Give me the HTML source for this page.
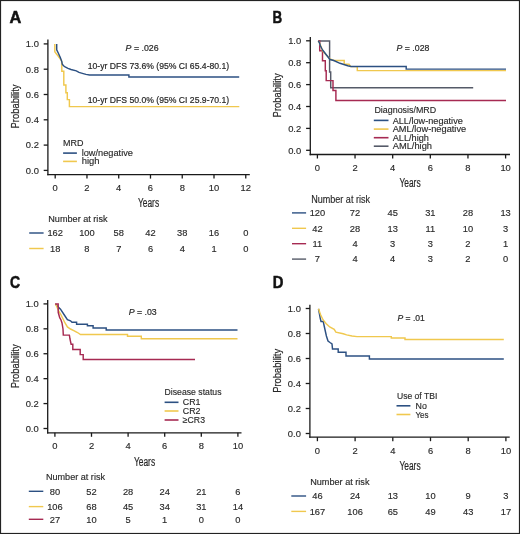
<!DOCTYPE html>
<html><head><meta charset="utf-8"><style>
html,body{margin:0;padding:0;background:#fff;}
svg{display:block;will-change:transform;font-family:"Liberation Sans",sans-serif;}
text{stroke:#2a2a2a;stroke-width:0.15px;}
text.h{stroke:#222;stroke-width:0.2px;}
</style></head><body>
<svg width="520" height="534" viewBox="0 0 520 534">
<rect x="0" y="0" width="520" height="534" fill="#fff"/>
<text x="9.50" y="22.50" font-size="16.35" text-anchor="start" font-weight="bold" font-style="normal" fill="#111" textLength="11.80" lengthAdjust="spacingAndGlyphs" style="stroke:#111;stroke-width:0.5px">A</text>
<line x1="47.90" y1="39.60" x2="47.90" y2="175.25" stroke="#1a1a1a" stroke-width="1.3"/>
<line x1="47.25" y1="174.60" x2="249.80" y2="174.60" stroke="#1a1a1a" stroke-width="1.3"/>
<line x1="43.70" y1="43.90" x2="47.90" y2="43.90" stroke="#1a1a1a" stroke-width="1.3"/>
<text x="38.90" y="47.23" font-size="9.40" text-anchor="end" font-weight="normal" font-style="normal" fill="#2a2a2a">1.0</text>
<line x1="43.70" y1="69.20" x2="47.90" y2="69.20" stroke="#1a1a1a" stroke-width="1.3"/>
<text x="38.90" y="72.53" font-size="9.40" text-anchor="end" font-weight="normal" font-style="normal" fill="#2a2a2a">0.8</text>
<line x1="43.70" y1="94.50" x2="47.90" y2="94.50" stroke="#1a1a1a" stroke-width="1.3"/>
<text x="38.90" y="97.83" font-size="9.40" text-anchor="end" font-weight="normal" font-style="normal" fill="#2a2a2a">0.6</text>
<line x1="43.70" y1="119.80" x2="47.90" y2="119.80" stroke="#1a1a1a" stroke-width="1.3"/>
<text x="38.90" y="123.13" font-size="9.40" text-anchor="end" font-weight="normal" font-style="normal" fill="#2a2a2a">0.4</text>
<line x1="43.70" y1="145.10" x2="47.90" y2="145.10" stroke="#1a1a1a" stroke-width="1.3"/>
<text x="38.90" y="148.43" font-size="9.40" text-anchor="end" font-weight="normal" font-style="normal" fill="#2a2a2a">0.2</text>
<line x1="43.70" y1="170.40" x2="47.90" y2="170.40" stroke="#1a1a1a" stroke-width="1.3"/>
<text x="38.90" y="173.73" font-size="9.40" text-anchor="end" font-weight="normal" font-style="normal" fill="#2a2a2a">0.0</text>
<line x1="55.20" y1="174.60" x2="55.20" y2="178.60" stroke="#1a1a1a" stroke-width="1.3"/>
<text x="55.20" y="190.93" font-size="9.40" text-anchor="middle" font-weight="normal" font-style="normal" fill="#2a2a2a">0</text>
<line x1="86.96" y1="174.60" x2="86.96" y2="178.60" stroke="#1a1a1a" stroke-width="1.3"/>
<text x="86.96" y="190.93" font-size="9.40" text-anchor="middle" font-weight="normal" font-style="normal" fill="#2a2a2a">2</text>
<line x1="118.72" y1="174.60" x2="118.72" y2="178.60" stroke="#1a1a1a" stroke-width="1.3"/>
<text x="118.72" y="190.93" font-size="9.40" text-anchor="middle" font-weight="normal" font-style="normal" fill="#2a2a2a">4</text>
<line x1="150.48" y1="174.60" x2="150.48" y2="178.60" stroke="#1a1a1a" stroke-width="1.3"/>
<text x="150.48" y="190.93" font-size="9.40" text-anchor="middle" font-weight="normal" font-style="normal" fill="#2a2a2a">6</text>
<line x1="182.24" y1="174.60" x2="182.24" y2="178.60" stroke="#1a1a1a" stroke-width="1.3"/>
<text x="182.24" y="190.93" font-size="9.40" text-anchor="middle" font-weight="normal" font-style="normal" fill="#2a2a2a">8</text>
<line x1="214.00" y1="174.60" x2="214.00" y2="178.60" stroke="#1a1a1a" stroke-width="1.3"/>
<text x="214.00" y="190.93" font-size="9.40" text-anchor="middle" font-weight="normal" font-style="normal" fill="#2a2a2a">10</text>
<line x1="245.76" y1="174.60" x2="245.76" y2="178.60" stroke="#1a1a1a" stroke-width="1.3"/>
<text x="245.76" y="190.93" font-size="9.40" text-anchor="middle" font-weight="normal" font-style="normal" fill="#2a2a2a">12</text>
<text x="0" y="0" font-size="10.4" fill="#2a2a2a" text-anchor="middle" textLength="44" lengthAdjust="spacingAndGlyphs" class="h" transform="translate(18.90,106.50) rotate(-90)">Probability</text>
<text x="138.00" y="207.30" font-size="12.50" text-anchor="start" font-weight="normal" font-style="normal" fill="#2a2a2a" textLength="21.10" lengthAdjust="spacingAndGlyphs" class="h">Years</text>
<text x="125.60" y="50.60" font-size="8.87" text-anchor="start" font-weight="normal" font-style="normal" fill="#2a2a2a" textLength="33.00" lengthAdjust="spacingAndGlyphs" class="h"><tspan font-style="italic">P</tspan> = .026</text>
<text x="87.70" y="69.20" font-size="9.16" text-anchor="start" font-weight="normal" font-style="normal" fill="#2a2a2a" textLength="141.50" lengthAdjust="spacingAndGlyphs" class="h">10-yr DFS 73.6% (95% CI 65.4-80.1)</text>
<text x="87.70" y="103.10" font-size="9.16" text-anchor="start" font-weight="normal" font-style="normal" fill="#2a2a2a" textLength="141.50" lengthAdjust="spacingAndGlyphs" class="h">10-yr DFS 50.0% (95% CI 25.9-70.1)</text>
<text x="63.10" y="145.80" font-size="8.43" text-anchor="start" font-weight="normal" font-style="normal" fill="#2a2a2a" textLength="20.40" lengthAdjust="spacingAndGlyphs">MRD</text>
<line x1="63.10" y1="153.10" x2="76.90" y2="153.10" stroke="#2c5082" stroke-width="1.6"/>
<line x1="63.10" y1="161.40" x2="76.90" y2="161.40" stroke="#f0c84e" stroke-width="1.6"/>
<text x="81.70" y="156.00" font-size="9.45" text-anchor="start" font-weight="normal" font-style="normal" fill="#2a2a2a" textLength="51.30" lengthAdjust="spacingAndGlyphs">low/negative</text>
<text x="81.70" y="163.70" font-size="9.30" text-anchor="start" font-weight="normal" font-style="normal" fill="#2a2a2a" textLength="17.80" lengthAdjust="spacingAndGlyphs">high</text>
<text x="48.30" y="222.10" font-size="8.58" text-anchor="start" font-weight="normal" font-style="normal" fill="#2a2a2a" textLength="59.20" lengthAdjust="spacingAndGlyphs">Number at risk</text>
<line x1="29.20" y1="233.00" x2="43.60" y2="233.00" stroke="#2c5082" stroke-width="1.45"/>
<line x1="29.20" y1="248.50" x2="43.60" y2="248.50" stroke="#f0c84e" stroke-width="1.45"/>
<text x="55.20" y="236.29" font-size="9.30" text-anchor="middle" font-weight="normal" font-style="normal" fill="#2a2a2a">162</text>
<text x="55.20" y="251.59" font-size="9.30" text-anchor="middle" font-weight="normal" font-style="normal" fill="#2a2a2a">18</text>
<text x="86.96" y="236.29" font-size="9.30" text-anchor="middle" font-weight="normal" font-style="normal" fill="#2a2a2a">100</text>
<text x="86.96" y="251.59" font-size="9.30" text-anchor="middle" font-weight="normal" font-style="normal" fill="#2a2a2a">8</text>
<text x="118.72" y="236.29" font-size="9.30" text-anchor="middle" font-weight="normal" font-style="normal" fill="#2a2a2a">58</text>
<text x="118.72" y="251.59" font-size="9.30" text-anchor="middle" font-weight="normal" font-style="normal" fill="#2a2a2a">7</text>
<text x="150.48" y="236.29" font-size="9.30" text-anchor="middle" font-weight="normal" font-style="normal" fill="#2a2a2a">42</text>
<text x="150.48" y="251.59" font-size="9.30" text-anchor="middle" font-weight="normal" font-style="normal" fill="#2a2a2a">6</text>
<text x="182.24" y="236.29" font-size="9.30" text-anchor="middle" font-weight="normal" font-style="normal" fill="#2a2a2a">38</text>
<text x="182.24" y="251.59" font-size="9.30" text-anchor="middle" font-weight="normal" font-style="normal" fill="#2a2a2a">4</text>
<text x="214.00" y="236.29" font-size="9.30" text-anchor="middle" font-weight="normal" font-style="normal" fill="#2a2a2a">16</text>
<text x="214.00" y="251.59" font-size="9.30" text-anchor="middle" font-weight="normal" font-style="normal" fill="#2a2a2a">1</text>
<text x="245.76" y="236.29" font-size="9.30" text-anchor="middle" font-weight="normal" font-style="normal" fill="#2a2a2a">0</text>
<text x="245.76" y="251.59" font-size="9.30" text-anchor="middle" font-weight="normal" font-style="normal" fill="#2a2a2a">0</text>
<polyline points="54.80,43.90 54.80,51.80 56.50,54.00 58.50,56.50 60.50,59.20 61.50,60.80 61.80,62.00 61.80,71.20 63.80,71.20 63.80,85.00 65.90,85.00 65.90,92.70 67.30,92.70 67.30,99.60 69.40,99.60 69.40,106.60 239.30,106.60" fill="none" stroke="#f0c84e" stroke-width="1.45" stroke-linejoin="miter"/>
<polyline points="56.70,43.90 56.70,49.80 58.50,53.50 60.30,57.50 61.80,61.60 62.30,64.30 63.50,65.80 65.10,66.90 68.00,68.30 71.00,69.50 76.30,70.90 79.00,72.40 83.20,73.60 86.00,74.40 89.50,75.00 128.90,75.00 128.90,76.90 239.20,76.90" fill="none" stroke="#2c5082" stroke-width="1.45" stroke-linejoin="miter"/>
<text x="272.60" y="22.70" font-size="16.79" text-anchor="start" font-weight="bold" font-style="normal" fill="#111" textLength="9.70" lengthAdjust="spacingAndGlyphs" style="stroke:#111;stroke-width:0.5px">B</text>
<line x1="310.30" y1="37.00" x2="310.30" y2="155.15" stroke="#1a1a1a" stroke-width="1.3"/>
<line x1="309.65" y1="154.50" x2="510.00" y2="154.50" stroke="#1a1a1a" stroke-width="1.3"/>
<line x1="306.10" y1="40.80" x2="310.30" y2="40.80" stroke="#1a1a1a" stroke-width="1.3"/>
<text x="301.20" y="44.13" font-size="9.40" text-anchor="end" font-weight="normal" font-style="normal" fill="#2a2a2a">1.0</text>
<line x1="306.10" y1="62.70" x2="310.30" y2="62.70" stroke="#1a1a1a" stroke-width="1.3"/>
<text x="301.20" y="66.03" font-size="9.40" text-anchor="end" font-weight="normal" font-style="normal" fill="#2a2a2a">0.8</text>
<line x1="306.10" y1="84.60" x2="310.30" y2="84.60" stroke="#1a1a1a" stroke-width="1.3"/>
<text x="301.20" y="87.93" font-size="9.40" text-anchor="end" font-weight="normal" font-style="normal" fill="#2a2a2a">0.6</text>
<line x1="306.10" y1="106.50" x2="310.30" y2="106.50" stroke="#1a1a1a" stroke-width="1.3"/>
<text x="301.20" y="109.83" font-size="9.40" text-anchor="end" font-weight="normal" font-style="normal" fill="#2a2a2a">0.4</text>
<line x1="306.10" y1="128.40" x2="310.30" y2="128.40" stroke="#1a1a1a" stroke-width="1.3"/>
<text x="301.20" y="131.73" font-size="9.40" text-anchor="end" font-weight="normal" font-style="normal" fill="#2a2a2a">0.2</text>
<line x1="306.10" y1="150.30" x2="310.30" y2="150.30" stroke="#1a1a1a" stroke-width="1.3"/>
<text x="301.20" y="153.63" font-size="9.40" text-anchor="end" font-weight="normal" font-style="normal" fill="#2a2a2a">0.0</text>
<line x1="317.40" y1="154.50" x2="317.40" y2="158.50" stroke="#1a1a1a" stroke-width="1.3"/>
<text x="317.40" y="171.13" font-size="9.40" text-anchor="middle" font-weight="normal" font-style="normal" fill="#2a2a2a">0</text>
<line x1="355.04" y1="154.50" x2="355.04" y2="158.50" stroke="#1a1a1a" stroke-width="1.3"/>
<text x="355.04" y="171.13" font-size="9.40" text-anchor="middle" font-weight="normal" font-style="normal" fill="#2a2a2a">2</text>
<line x1="392.68" y1="154.50" x2="392.68" y2="158.50" stroke="#1a1a1a" stroke-width="1.3"/>
<text x="392.68" y="171.13" font-size="9.40" text-anchor="middle" font-weight="normal" font-style="normal" fill="#2a2a2a">4</text>
<line x1="430.32" y1="154.50" x2="430.32" y2="158.50" stroke="#1a1a1a" stroke-width="1.3"/>
<text x="430.32" y="171.13" font-size="9.40" text-anchor="middle" font-weight="normal" font-style="normal" fill="#2a2a2a">6</text>
<line x1="467.96" y1="154.50" x2="467.96" y2="158.50" stroke="#1a1a1a" stroke-width="1.3"/>
<text x="467.96" y="171.13" font-size="9.40" text-anchor="middle" font-weight="normal" font-style="normal" fill="#2a2a2a">8</text>
<line x1="505.60" y1="154.50" x2="505.60" y2="158.50" stroke="#1a1a1a" stroke-width="1.3"/>
<text x="505.60" y="171.13" font-size="9.40" text-anchor="middle" font-weight="normal" font-style="normal" fill="#2a2a2a">10</text>
<text x="0" y="0" font-size="10.4" fill="#2a2a2a" text-anchor="middle" textLength="44" lengthAdjust="spacingAndGlyphs" class="h" transform="translate(281.20,95.40) rotate(-90)">Probability</text>
<text x="399.40" y="187.30" font-size="12.21" text-anchor="start" font-weight="normal" font-style="normal" fill="#2a2a2a" textLength="21.20" lengthAdjust="spacingAndGlyphs" class="h">Years</text>
<text x="396.50" y="50.60" font-size="9.30" text-anchor="start" font-weight="normal" font-style="normal" fill="#2a2a2a" textLength="32.90" lengthAdjust="spacingAndGlyphs" class="h"><tspan font-style="italic">P</tspan> = .028</text>
<text x="374.40" y="113.30" font-size="9.30" text-anchor="start" font-weight="normal" font-style="normal" fill="#2a2a2a" textLength="61.80" lengthAdjust="spacingAndGlyphs">Diagnosis/MRD</text>
<line x1="373.80" y1="120.40" x2="388.50" y2="120.40" stroke="#2c5082" stroke-width="1.6"/>
<text x="392.70" y="123.60" font-size="9.30" text-anchor="start" font-weight="normal" font-style="normal" fill="#2a2a2a" textLength="70.10" lengthAdjust="spacingAndGlyphs">ALL/low-negative</text>
<line x1="373.80" y1="129.10" x2="388.50" y2="129.10" stroke="#f0c84e" stroke-width="1.6"/>
<text x="392.70" y="132.30" font-size="9.30" text-anchor="start" font-weight="normal" font-style="normal" fill="#2a2a2a" textLength="73.50" lengthAdjust="spacingAndGlyphs">AML/low-negative</text>
<line x1="373.80" y1="137.70" x2="388.50" y2="137.70" stroke="#a62a52" stroke-width="1.6"/>
<text x="392.70" y="140.90" font-size="9.30" text-anchor="start" font-weight="normal" font-style="normal" fill="#2a2a2a" textLength="36.20" lengthAdjust="spacingAndGlyphs">ALL/high</text>
<line x1="373.80" y1="146.20" x2="388.50" y2="146.20" stroke="#555a68" stroke-width="1.6"/>
<text x="392.70" y="149.40" font-size="9.30" text-anchor="start" font-weight="normal" font-style="normal" fill="#2a2a2a" textLength="39.30" lengthAdjust="spacingAndGlyphs">AML/high</text>
<text x="311.20" y="202.70" font-size="10.03" text-anchor="start" font-weight="normal" font-style="normal" fill="#2a2a2a" textLength="58.80" lengthAdjust="spacingAndGlyphs">Number at risk</text>
<line x1="292.00" y1="212.90" x2="306.10" y2="212.90" stroke="#2c5082" stroke-width="1.4"/>
<text x="317.40" y="216.19" font-size="9.30" text-anchor="middle" font-weight="normal" font-style="normal" fill="#2a2a2a">120</text>
<text x="355.04" y="216.19" font-size="9.30" text-anchor="middle" font-weight="normal" font-style="normal" fill="#2a2a2a">72</text>
<text x="392.68" y="216.19" font-size="9.30" text-anchor="middle" font-weight="normal" font-style="normal" fill="#2a2a2a">45</text>
<text x="430.32" y="216.19" font-size="9.30" text-anchor="middle" font-weight="normal" font-style="normal" fill="#2a2a2a">31</text>
<text x="467.96" y="216.19" font-size="9.30" text-anchor="middle" font-weight="normal" font-style="normal" fill="#2a2a2a">28</text>
<text x="505.60" y="216.19" font-size="9.30" text-anchor="middle" font-weight="normal" font-style="normal" fill="#2a2a2a">13</text>
<line x1="292.00" y1="228.30" x2="306.10" y2="228.30" stroke="#f0c84e" stroke-width="1.4"/>
<text x="317.40" y="231.59" font-size="9.30" text-anchor="middle" font-weight="normal" font-style="normal" fill="#2a2a2a">42</text>
<text x="355.04" y="231.59" font-size="9.30" text-anchor="middle" font-weight="normal" font-style="normal" fill="#2a2a2a">28</text>
<text x="392.68" y="231.59" font-size="9.30" text-anchor="middle" font-weight="normal" font-style="normal" fill="#2a2a2a">13</text>
<text x="430.32" y="231.59" font-size="9.30" text-anchor="middle" font-weight="normal" font-style="normal" fill="#2a2a2a">11</text>
<text x="467.96" y="231.59" font-size="9.30" text-anchor="middle" font-weight="normal" font-style="normal" fill="#2a2a2a">10</text>
<text x="505.60" y="231.59" font-size="9.30" text-anchor="middle" font-weight="normal" font-style="normal" fill="#2a2a2a">3</text>
<line x1="292.00" y1="243.70" x2="306.10" y2="243.70" stroke="#a62a52" stroke-width="1.4"/>
<text x="317.40" y="246.99" font-size="9.30" text-anchor="middle" font-weight="normal" font-style="normal" fill="#2a2a2a">11</text>
<text x="355.04" y="246.99" font-size="9.30" text-anchor="middle" font-weight="normal" font-style="normal" fill="#2a2a2a">4</text>
<text x="392.68" y="246.99" font-size="9.30" text-anchor="middle" font-weight="normal" font-style="normal" fill="#2a2a2a">3</text>
<text x="430.32" y="246.99" font-size="9.30" text-anchor="middle" font-weight="normal" font-style="normal" fill="#2a2a2a">3</text>
<text x="467.96" y="246.99" font-size="9.30" text-anchor="middle" font-weight="normal" font-style="normal" fill="#2a2a2a">2</text>
<text x="505.60" y="246.99" font-size="9.30" text-anchor="middle" font-weight="normal" font-style="normal" fill="#2a2a2a">1</text>
<line x1="292.00" y1="259.10" x2="306.10" y2="259.10" stroke="#555a68" stroke-width="1.4"/>
<text x="317.40" y="262.39" font-size="9.30" text-anchor="middle" font-weight="normal" font-style="normal" fill="#2a2a2a">7</text>
<text x="355.04" y="262.39" font-size="9.30" text-anchor="middle" font-weight="normal" font-style="normal" fill="#2a2a2a">4</text>
<text x="392.68" y="262.39" font-size="9.30" text-anchor="middle" font-weight="normal" font-style="normal" fill="#2a2a2a">4</text>
<text x="430.32" y="262.39" font-size="9.30" text-anchor="middle" font-weight="normal" font-style="normal" fill="#2a2a2a">3</text>
<text x="467.96" y="262.39" font-size="9.30" text-anchor="middle" font-weight="normal" font-style="normal" fill="#2a2a2a">2</text>
<text x="505.60" y="262.39" font-size="9.30" text-anchor="middle" font-weight="normal" font-style="normal" fill="#2a2a2a">0</text>
<polyline points="318.30,40.90 329.60,40.90 329.60,40.90 329.60,40.90 329.60,72.09 330.70,72.09 330.70,72.09 330.70,72.09 330.70,87.73 473.20,87.73 473.20,87.73" fill="none" stroke="#555a68" stroke-width="1.45" stroke-linejoin="miter"/>
<polyline points="318.30,40.90 319.70,40.90 319.70,40.90 319.70,40.90 319.70,50.75 322.50,50.75 322.50,50.75 322.50,50.75 322.50,60.71 325.30,60.71 325.30,60.71 325.30,60.71 325.30,70.66 326.20,70.66 326.20,70.66 326.20,70.66 326.20,80.62 333.00,80.62 333.00,80.62 333.00,80.62 333.00,90.57 335.90,90.57 335.90,90.57 335.90,90.57 335.90,100.53 506.00,100.53 506.00,100.53" fill="none" stroke="#a62a52" stroke-width="1.45" stroke-linejoin="miter"/>
<polyline points="318.30,40.90 319.80,43.50 321.00,46.50 322.20,50.00 323.50,52.00 330.00,59.00 333.80,60.50 344.20,60.50 344.20,64.30 349.00,64.30 350.80,66.60 357.30,66.60 357.30,70.60 506.00,70.60" fill="none" stroke="#f0c84e" stroke-width="1.45" stroke-linejoin="miter"/>
<polyline points="318.30,40.90 319.50,43.00 320.50,46.00 321.80,48.50 323.00,50.50 330.00,59.50 333.80,60.50 340.00,63.30 347.70,65.80 351.00,66.40 406.20,66.40 406.20,69.10 506.00,69.10" fill="none" stroke="#2c5082" stroke-width="1.45" stroke-linejoin="miter"/>
<text x="10.10" y="288.20" font-size="16.42" text-anchor="start" font-weight="bold" font-style="normal" fill="#111" textLength="10.10" lengthAdjust="spacingAndGlyphs" style="stroke:#111;stroke-width:0.5px">C</text>
<line x1="47.70" y1="300.00" x2="47.70" y2="433.45" stroke="#1a1a1a" stroke-width="1.3"/>
<line x1="47.05" y1="432.80" x2="241.50" y2="432.80" stroke="#1a1a1a" stroke-width="1.3"/>
<line x1="43.50" y1="303.90" x2="47.70" y2="303.90" stroke="#1a1a1a" stroke-width="1.3"/>
<text x="38.70" y="307.23" font-size="9.40" text-anchor="end" font-weight="normal" font-style="normal" fill="#2a2a2a">1.0</text>
<line x1="43.50" y1="328.82" x2="47.70" y2="328.82" stroke="#1a1a1a" stroke-width="1.3"/>
<text x="38.70" y="332.15" font-size="9.40" text-anchor="end" font-weight="normal" font-style="normal" fill="#2a2a2a">0.8</text>
<line x1="43.50" y1="353.74" x2="47.70" y2="353.74" stroke="#1a1a1a" stroke-width="1.3"/>
<text x="38.70" y="357.07" font-size="9.40" text-anchor="end" font-weight="normal" font-style="normal" fill="#2a2a2a">0.6</text>
<line x1="43.50" y1="378.66" x2="47.70" y2="378.66" stroke="#1a1a1a" stroke-width="1.3"/>
<text x="38.70" y="381.99" font-size="9.40" text-anchor="end" font-weight="normal" font-style="normal" fill="#2a2a2a">0.4</text>
<line x1="43.50" y1="403.58" x2="47.70" y2="403.58" stroke="#1a1a1a" stroke-width="1.3"/>
<text x="38.70" y="406.91" font-size="9.40" text-anchor="end" font-weight="normal" font-style="normal" fill="#2a2a2a">0.2</text>
<line x1="43.50" y1="428.50" x2="47.70" y2="428.50" stroke="#1a1a1a" stroke-width="1.3"/>
<text x="38.70" y="431.83" font-size="9.40" text-anchor="end" font-weight="normal" font-style="normal" fill="#2a2a2a">0.0</text>
<line x1="54.90" y1="432.80" x2="54.90" y2="436.80" stroke="#1a1a1a" stroke-width="1.3"/>
<text x="54.90" y="449.13" font-size="9.40" text-anchor="middle" font-weight="normal" font-style="normal" fill="#2a2a2a">0</text>
<line x1="91.50" y1="432.80" x2="91.50" y2="436.80" stroke="#1a1a1a" stroke-width="1.3"/>
<text x="91.50" y="449.13" font-size="9.40" text-anchor="middle" font-weight="normal" font-style="normal" fill="#2a2a2a">2</text>
<line x1="128.10" y1="432.80" x2="128.10" y2="436.80" stroke="#1a1a1a" stroke-width="1.3"/>
<text x="128.10" y="449.13" font-size="9.40" text-anchor="middle" font-weight="normal" font-style="normal" fill="#2a2a2a">4</text>
<line x1="164.70" y1="432.80" x2="164.70" y2="436.80" stroke="#1a1a1a" stroke-width="1.3"/>
<text x="164.70" y="449.13" font-size="9.40" text-anchor="middle" font-weight="normal" font-style="normal" fill="#2a2a2a">6</text>
<line x1="201.30" y1="432.80" x2="201.30" y2="436.80" stroke="#1a1a1a" stroke-width="1.3"/>
<text x="201.30" y="449.13" font-size="9.40" text-anchor="middle" font-weight="normal" font-style="normal" fill="#2a2a2a">8</text>
<line x1="237.90" y1="432.80" x2="237.90" y2="436.80" stroke="#1a1a1a" stroke-width="1.3"/>
<text x="237.90" y="449.13" font-size="9.40" text-anchor="middle" font-weight="normal" font-style="normal" fill="#2a2a2a">10</text>
<text x="0" y="0" font-size="10.4" fill="#2a2a2a" text-anchor="middle" textLength="44" lengthAdjust="spacingAndGlyphs" class="h" transform="translate(18.90,366.30) rotate(-90)">Probability</text>
<text x="133.90" y="465.50" font-size="12.21" text-anchor="start" font-weight="normal" font-style="normal" fill="#2a2a2a" textLength="21.20" lengthAdjust="spacingAndGlyphs" class="h">Years</text>
<text x="128.70" y="315.20" font-size="9.01" text-anchor="start" font-weight="normal" font-style="normal" fill="#2a2a2a" textLength="28.00" lengthAdjust="spacingAndGlyphs" class="h"><tspan font-style="italic">P</tspan> = .03</text>
<text x="164.60" y="395.40" font-size="9.01" text-anchor="start" font-weight="normal" font-style="normal" fill="#2a2a2a" textLength="56.90" lengthAdjust="spacingAndGlyphs">Disease status</text>
<line x1="164.60" y1="402.30" x2="178.50" y2="402.30" stroke="#2c5082" stroke-width="1.6"/>
<text x="182.80" y="405.40" font-size="9.01" text-anchor="start" font-weight="normal" font-style="normal" fill="#2a2a2a" textLength="17.70" lengthAdjust="spacingAndGlyphs">CR1</text>
<line x1="164.60" y1="411.00" x2="178.50" y2="411.00" stroke="#f0c84e" stroke-width="1.6"/>
<text x="182.80" y="414.10" font-size="9.01" text-anchor="start" font-weight="normal" font-style="normal" fill="#2a2a2a" textLength="17.70" lengthAdjust="spacingAndGlyphs">CR2</text>
<line x1="164.60" y1="420.00" x2="178.50" y2="420.00" stroke="#a62a52" stroke-width="1.6"/>
<text x="182.80" y="423.10" font-size="9.01" text-anchor="start" font-weight="normal" font-style="normal" fill="#2a2a2a" textLength="22.20" lengthAdjust="spacingAndGlyphs">≥CR3</text>
<text x="45.90" y="480.00" font-size="9.01" text-anchor="start" font-weight="normal" font-style="normal" fill="#2a2a2a" textLength="59.10" lengthAdjust="spacingAndGlyphs">Number at risk</text>
<line x1="28.80" y1="491.30" x2="43.30" y2="491.30" stroke="#2c5082" stroke-width="1.4"/>
<text x="54.90" y="494.59" font-size="9.30" text-anchor="middle" font-weight="normal" font-style="normal" fill="#2a2a2a">80</text>
<text x="91.50" y="494.59" font-size="9.30" text-anchor="middle" font-weight="normal" font-style="normal" fill="#2a2a2a">52</text>
<text x="128.10" y="494.59" font-size="9.30" text-anchor="middle" font-weight="normal" font-style="normal" fill="#2a2a2a">28</text>
<text x="164.70" y="494.59" font-size="9.30" text-anchor="middle" font-weight="normal" font-style="normal" fill="#2a2a2a">24</text>
<text x="201.30" y="494.59" font-size="9.30" text-anchor="middle" font-weight="normal" font-style="normal" fill="#2a2a2a">21</text>
<text x="237.90" y="494.59" font-size="9.30" text-anchor="middle" font-weight="normal" font-style="normal" fill="#2a2a2a">6</text>
<line x1="28.80" y1="506.60" x2="43.30" y2="506.60" stroke="#f0c84e" stroke-width="1.4"/>
<text x="54.90" y="509.89" font-size="9.30" text-anchor="middle" font-weight="normal" font-style="normal" fill="#2a2a2a">106</text>
<text x="91.50" y="509.89" font-size="9.30" text-anchor="middle" font-weight="normal" font-style="normal" fill="#2a2a2a">68</text>
<text x="128.10" y="509.89" font-size="9.30" text-anchor="middle" font-weight="normal" font-style="normal" fill="#2a2a2a">45</text>
<text x="164.70" y="509.89" font-size="9.30" text-anchor="middle" font-weight="normal" font-style="normal" fill="#2a2a2a">34</text>
<text x="201.30" y="509.89" font-size="9.30" text-anchor="middle" font-weight="normal" font-style="normal" fill="#2a2a2a">31</text>
<text x="237.90" y="509.89" font-size="9.30" text-anchor="middle" font-weight="normal" font-style="normal" fill="#2a2a2a">14</text>
<line x1="28.80" y1="519.30" x2="43.30" y2="519.30" stroke="#a62a52" stroke-width="1.4"/>
<text x="54.90" y="522.59" font-size="9.30" text-anchor="middle" font-weight="normal" font-style="normal" fill="#2a2a2a">27</text>
<text x="91.50" y="522.59" font-size="9.30" text-anchor="middle" font-weight="normal" font-style="normal" fill="#2a2a2a">10</text>
<text x="128.10" y="522.59" font-size="9.30" text-anchor="middle" font-weight="normal" font-style="normal" fill="#2a2a2a">5</text>
<text x="164.70" y="522.59" font-size="9.30" text-anchor="middle" font-weight="normal" font-style="normal" fill="#2a2a2a">1</text>
<text x="201.30" y="522.59" font-size="9.30" text-anchor="middle" font-weight="normal" font-style="normal" fill="#2a2a2a">0</text>
<text x="237.90" y="522.59" font-size="9.30" text-anchor="middle" font-weight="normal" font-style="normal" fill="#2a2a2a">0</text>
<polyline points="55.40,303.90 57.50,306.20 60.50,309.20 64.00,314.50 67.40,319.60 70.50,320.80 72.00,322.30 76.60,322.30 76.60,324.20 87.40,324.20 87.40,325.80 93.10,325.80 93.10,328.00 106.20,328.00 106.20,330.00 237.50,330.00" fill="none" stroke="#2c5082" stroke-width="1.45" stroke-linejoin="miter"/>
<polyline points="55.40,303.90 56.50,306.00 58.50,310.50 60.80,314.50 62.80,318.50 65.00,323.00 67.40,326.90 70.50,329.00 74.30,330.80 77.50,332.50 80.50,334.50 127.50,334.50 127.50,336.30 141.30,336.30 141.30,338.80 237.50,338.80" fill="none" stroke="#f0c84e" stroke-width="1.45" stroke-linejoin="miter"/>
<polyline points="55.10,303.90 58.20,303.90 58.20,312.30 59.70,317.70 61.00,320.00 62.00,323.00 63.00,329.00 63.30,335.10 69.40,335.10 70.00,339.00 71.10,344.20 72.80,344.20 72.80,349.50 80.20,349.50 80.20,354.60 83.20,354.60 83.20,359.40 195.00,359.40" fill="none" stroke="#a62a52" stroke-width="1.45" stroke-linejoin="miter"/>
<text x="272.80" y="288.10" font-size="16.57" text-anchor="start" font-weight="bold" font-style="normal" fill="#111" textLength="10.70" lengthAdjust="spacingAndGlyphs" style="stroke:#111;stroke-width:0.5px">D</text>
<line x1="309.90" y1="304.70" x2="309.90" y2="437.85" stroke="#1a1a1a" stroke-width="1.3"/>
<line x1="309.25" y1="437.20" x2="509.70" y2="437.20" stroke="#1a1a1a" stroke-width="1.3"/>
<line x1="305.70" y1="308.50" x2="309.90" y2="308.50" stroke="#1a1a1a" stroke-width="1.3"/>
<text x="300.90" y="311.83" font-size="9.40" text-anchor="end" font-weight="normal" font-style="normal" fill="#2a2a2a">1.0</text>
<line x1="305.70" y1="333.50" x2="309.90" y2="333.50" stroke="#1a1a1a" stroke-width="1.3"/>
<text x="300.90" y="336.83" font-size="9.40" text-anchor="end" font-weight="normal" font-style="normal" fill="#2a2a2a">0.8</text>
<line x1="305.70" y1="358.50" x2="309.90" y2="358.50" stroke="#1a1a1a" stroke-width="1.3"/>
<text x="300.90" y="361.83" font-size="9.40" text-anchor="end" font-weight="normal" font-style="normal" fill="#2a2a2a">0.6</text>
<line x1="305.70" y1="383.50" x2="309.90" y2="383.50" stroke="#1a1a1a" stroke-width="1.3"/>
<text x="300.90" y="386.83" font-size="9.40" text-anchor="end" font-weight="normal" font-style="normal" fill="#2a2a2a">0.4</text>
<line x1="305.70" y1="408.50" x2="309.90" y2="408.50" stroke="#1a1a1a" stroke-width="1.3"/>
<text x="300.90" y="411.83" font-size="9.40" text-anchor="end" font-weight="normal" font-style="normal" fill="#2a2a2a">0.2</text>
<line x1="305.70" y1="433.50" x2="309.90" y2="433.50" stroke="#1a1a1a" stroke-width="1.3"/>
<text x="300.90" y="436.83" font-size="9.40" text-anchor="end" font-weight="normal" font-style="normal" fill="#2a2a2a">0.0</text>
<line x1="317.40" y1="437.20" x2="317.40" y2="441.20" stroke="#1a1a1a" stroke-width="1.3"/>
<text x="317.40" y="454.13" font-size="9.40" text-anchor="middle" font-weight="normal" font-style="normal" fill="#2a2a2a">0</text>
<line x1="355.10" y1="437.20" x2="355.10" y2="441.20" stroke="#1a1a1a" stroke-width="1.3"/>
<text x="355.10" y="454.13" font-size="9.40" text-anchor="middle" font-weight="normal" font-style="normal" fill="#2a2a2a">2</text>
<line x1="392.80" y1="437.20" x2="392.80" y2="441.20" stroke="#1a1a1a" stroke-width="1.3"/>
<text x="392.80" y="454.13" font-size="9.40" text-anchor="middle" font-weight="normal" font-style="normal" fill="#2a2a2a">4</text>
<line x1="430.50" y1="437.20" x2="430.50" y2="441.20" stroke="#1a1a1a" stroke-width="1.3"/>
<text x="430.50" y="454.13" font-size="9.40" text-anchor="middle" font-weight="normal" font-style="normal" fill="#2a2a2a">6</text>
<line x1="468.20" y1="437.20" x2="468.20" y2="441.20" stroke="#1a1a1a" stroke-width="1.3"/>
<text x="468.20" y="454.13" font-size="9.40" text-anchor="middle" font-weight="normal" font-style="normal" fill="#2a2a2a">8</text>
<line x1="505.90" y1="437.20" x2="505.90" y2="441.20" stroke="#1a1a1a" stroke-width="1.3"/>
<text x="505.90" y="454.13" font-size="9.40" text-anchor="middle" font-weight="normal" font-style="normal" fill="#2a2a2a">10</text>
<text x="0" y="0" font-size="10.4" fill="#2a2a2a" text-anchor="middle" textLength="44" lengthAdjust="spacingAndGlyphs" class="h" transform="translate(280.90,370.80) rotate(-90)">Probability</text>
<text x="399.40" y="470.20" font-size="12.65" text-anchor="start" font-weight="normal" font-style="normal" fill="#2a2a2a" textLength="21.20" lengthAdjust="spacingAndGlyphs" class="h">Years</text>
<text x="397.50" y="321.00" font-size="9.01" text-anchor="start" font-weight="normal" font-style="normal" fill="#2a2a2a" textLength="27.30" lengthAdjust="spacingAndGlyphs" class="h"><tspan font-style="italic">P</tspan> = .01</text>
<text x="397.00" y="399.20" font-size="9.01" text-anchor="start" font-weight="normal" font-style="normal" fill="#2a2a2a" textLength="40.30" lengthAdjust="spacingAndGlyphs">Use of TBI</text>
<line x1="396.50" y1="405.80" x2="410.40" y2="405.80" stroke="#2c5082" stroke-width="1.6"/>
<line x1="396.50" y1="414.50" x2="410.40" y2="414.50" stroke="#f0c84e" stroke-width="1.6"/>
<text x="415.50" y="408.80" font-size="8.87" text-anchor="start" font-weight="normal" font-style="normal" fill="#2a2a2a" textLength="11.30" lengthAdjust="spacingAndGlyphs">No</text>
<text x="415.50" y="417.60" font-size="8.87" text-anchor="start" font-weight="normal" font-style="normal" fill="#2a2a2a" textLength="13.10" lengthAdjust="spacingAndGlyphs">Yes</text>
<text x="310.20" y="485.00" font-size="8.58" text-anchor="start" font-weight="normal" font-style="normal" fill="#2a2a2a" textLength="59.30" lengthAdjust="spacingAndGlyphs">Number at risk</text>
<line x1="291.30" y1="496.00" x2="306.10" y2="496.00" stroke="#2c5082" stroke-width="1.4"/>
<text x="317.40" y="499.29" font-size="9.30" text-anchor="middle" font-weight="normal" font-style="normal" fill="#2a2a2a">46</text>
<text x="355.10" y="499.29" font-size="9.30" text-anchor="middle" font-weight="normal" font-style="normal" fill="#2a2a2a">24</text>
<text x="392.80" y="499.29" font-size="9.30" text-anchor="middle" font-weight="normal" font-style="normal" fill="#2a2a2a">13</text>
<text x="430.50" y="499.29" font-size="9.30" text-anchor="middle" font-weight="normal" font-style="normal" fill="#2a2a2a">10</text>
<text x="468.20" y="499.29" font-size="9.30" text-anchor="middle" font-weight="normal" font-style="normal" fill="#2a2a2a">9</text>
<text x="505.90" y="499.29" font-size="9.30" text-anchor="middle" font-weight="normal" font-style="normal" fill="#2a2a2a">3</text>
<line x1="291.30" y1="511.40" x2="306.10" y2="511.40" stroke="#f0c84e" stroke-width="1.4"/>
<text x="317.40" y="514.69" font-size="9.30" text-anchor="middle" font-weight="normal" font-style="normal" fill="#2a2a2a">167</text>
<text x="355.10" y="514.69" font-size="9.30" text-anchor="middle" font-weight="normal" font-style="normal" fill="#2a2a2a">106</text>
<text x="392.80" y="514.69" font-size="9.30" text-anchor="middle" font-weight="normal" font-style="normal" fill="#2a2a2a">65</text>
<text x="430.50" y="514.69" font-size="9.30" text-anchor="middle" font-weight="normal" font-style="normal" fill="#2a2a2a">49</text>
<text x="468.20" y="514.69" font-size="9.30" text-anchor="middle" font-weight="normal" font-style="normal" fill="#2a2a2a">43</text>
<text x="505.90" y="514.69" font-size="9.30" text-anchor="middle" font-weight="normal" font-style="normal" fill="#2a2a2a">17</text>
<polyline points="318.50,308.80 319.30,313.00 320.20,318.00 321.00,321.40 323.20,321.40 324.30,326.50 325.40,331.50 326.40,336.00 328.00,341.00 330.00,342.50 332.00,343.90 332.50,349.00 338.20,349.00 338.20,352.30 346.00,352.30 346.00,355.90 369.40,355.90 369.40,358.90 503.80,358.90" fill="none" stroke="#2c5082" stroke-width="1.45" stroke-linejoin="miter"/>
<polyline points="318.50,308.80 320.50,314.50 323.00,319.70 326.00,323.50 329.70,327.00 334.20,329.30 335.90,332.10 343.20,333.80 346.60,334.90 352.00,336.00 357.00,336.60 391.30,336.60 391.30,338.00 405.00,338.00 405.00,339.50 503.80,339.50" fill="none" stroke="#f0c84e" stroke-width="1.45" stroke-linejoin="miter"/>
<rect x="0.5" y="0.5" width="519" height="533" fill="none" stroke="#222" stroke-width="1.2"/>
</svg>
</body></html>
